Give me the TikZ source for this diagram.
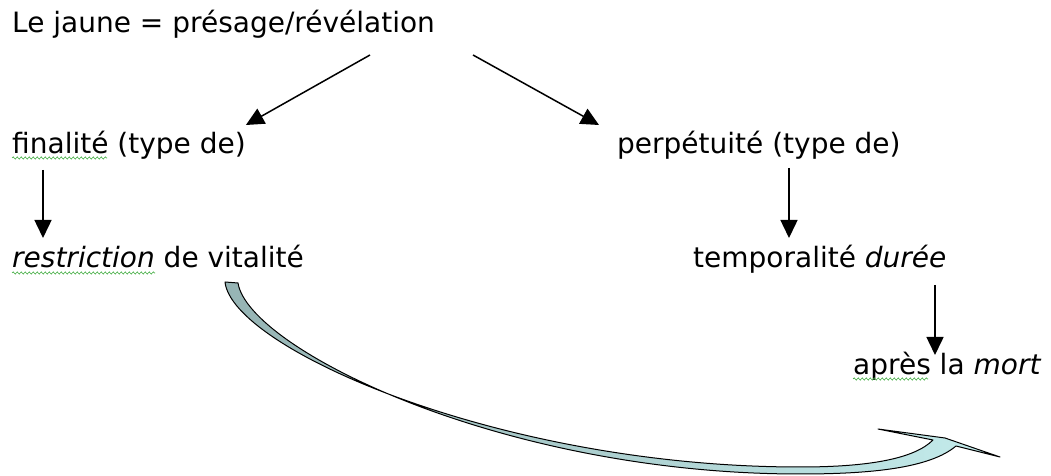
\documentclass[tikz,border=0pt]{standalone}
\usepackage{fontspec}
\setmainfont{DejaVu Sans}
\usepackage{tikz}
\usetikzlibrary{arrows.meta,positioning,calc,decorations.pathmorphing}
\definecolor{bandstart}{RGB}{150,180,180}
\definecolor{bandend}{RGB}{196,236,236}
\definecolor{spellgreen}{RGB}{60,170,60}

\begin{document}
\begin{tikzpicture}[
    x=1pt, y=1pt,
    txt/.style={inner sep=0pt, anchor=base west, font=\fontsize{28}{34}\selectfont},
    arrow/.style={-{Triangle[length=18pt, width=17pt]}, line width=1.5pt},
    bandarrow/.style={draw=black, line width=1pt, line join=round, left color=bandstart, right color=bandend},
    squiggle/.style={spellgreen, line width=0.6pt, decorate, decoration={snake, amplitude=1.1pt, segment length=4pt}}
  ]
  \useasboundingbox (0,0) rectangle (1051,476);

  % Top line
  \node[txt] (top) at (12,443) {Le jaune = présage/révélation};

  % Second row
  \node[txt] (fin)  at (12,322)  {finalité (type de)};
  \node[txt] (perp) at (617,322) {perpétuité (type de)};

  % Third row
  \node[txt] (res)  at (12,208)  {\textit{restriction} de vitalité};
  \node[txt] (temp) at (693,208) {temporalité \textit{durée}};

  % Last line
  \node[txt] (apres) at (853,101) {après la \textit{mort}};

  % Arrows from the top line
  \draw[arrow] ($(top.base west)+(358,-22)$) -- ($(fin.base east)+(0,29)$);
  \draw[arrow] ($(top.base west)+(461,-22)$) -- ($(perp.base west)+(-18,29)$);

  % Vertical arrows
  \draw[arrow] ($(fin.base west)+(31,-16)$) -- ($(res.base west)+(31,30)$);
  \draw[arrow] ($(perp.base west)+(172,-14)$) -- ($(temp.base west)+(96,30)$);
  \draw[arrow] ($(temp.base west)+(242,-17)$) -- ($(apres.base west)+(82,20)$);

  % Curved block arrow below
  \path[bandarrow] (225,194) .. controls (232,128) and (500,9) .. (800,9)
    .. controls (872,9) and (915,18) .. (933,36) -- (878,47) -- (945,38) -- (1000,19) -- (956,30)
    .. controls (930,8) and (872,2) .. (800,2)
    .. controls (500,2) and (248,128) .. (238,193) -- cycle;

  % Spelling marks
  \draw[squiggle] ($(fin.base west)+(0,-4)$) -- ++(95,0);
  \draw[squiggle] ($(res.base west)+(0,-5)$) -- ++(143,0);
  \draw[squiggle] ($(apres.base west)+(0,-4)$) -- ++(75,0);

\end{tikzpicture}
\end{document}
